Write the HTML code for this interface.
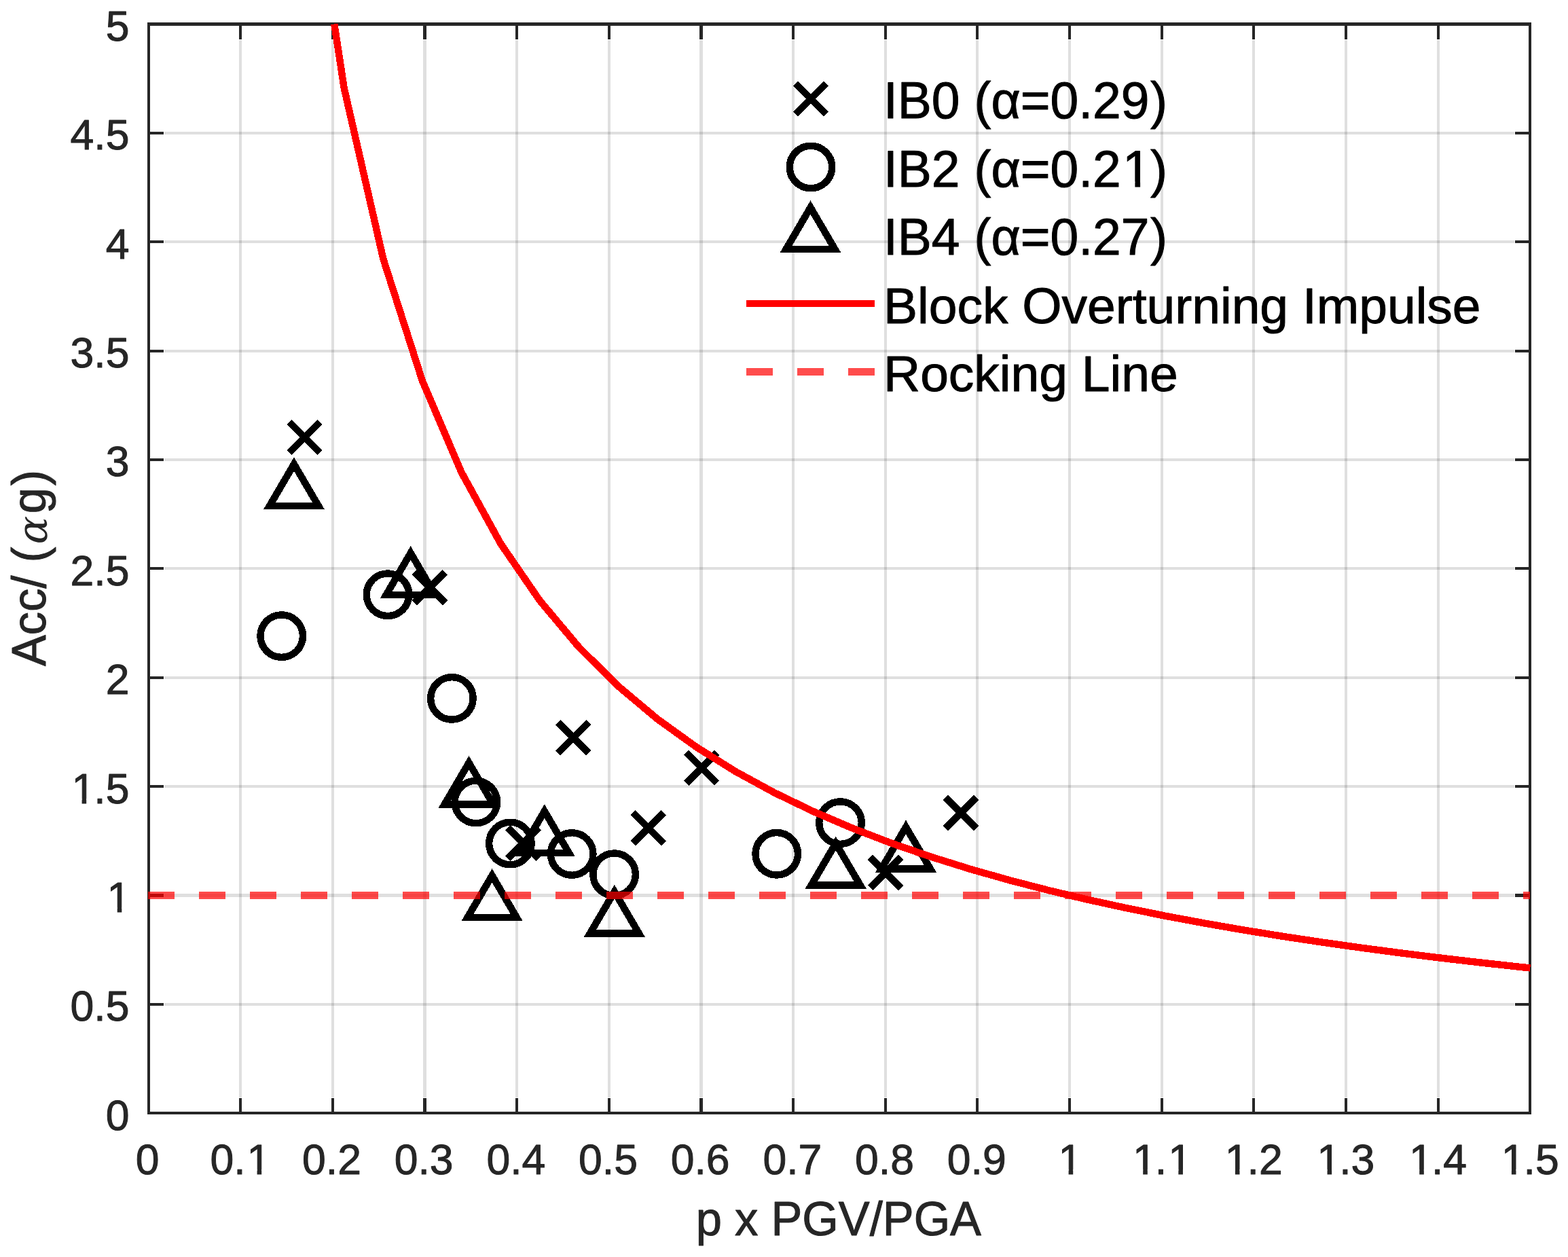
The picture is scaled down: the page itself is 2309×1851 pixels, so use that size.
<!DOCTYPE html>
<html lang="en"><head><meta charset="utf-8"><title>Block overturning plot</title>
<style>
html,body{margin:0;padding:0;background:#fff;}
body{width:2309px;height:1851px;overflow:hidden;}
svg{display:block;}
text{font-family:"Liberation Sans",sans-serif;font-kerning:none;stroke-width:1;stroke-linejoin:round;white-space:pre;}
.tk{font-size:62.5px;fill:#262626;stroke:#262626;}
.lb{font-size:68.75px;fill:#262626;stroke:#262626;}
.lg{font-size:75px;fill:#000;stroke:#000;}
.al{font-family:"DejaVu Math TeX Gyre","DejaVu Serif","Liberation Serif",serif;font-style:italic;font-size:60px;stroke:none;}
</style></head><body>
<svg width="2309" height="1851" viewBox="0 0 2309 1851">
<rect x="0" y="0" width="2309" height="1851" fill="#fff"/>
<g shape-rendering="crispEdges">
<g stroke="#262626" stroke-opacity="0.15" stroke-width="4.17" fill="none">
<line x1="354.12" y1="59" x2="354.12" y2="1616"/>
<line x1="489.78" y1="59" x2="489.78" y2="1616"/>
<line x1="625.44" y1="59" x2="625.44" y2="1616"/>
<line x1="761.1" y1="59" x2="761.1" y2="1616"/>
<line x1="896.76" y1="59" x2="896.76" y2="1616"/>
<line x1="1032.42" y1="59" x2="1032.42" y2="1616"/>
<line x1="1168.08" y1="59" x2="1168.08" y2="1616"/>
<line x1="1303.74" y1="59" x2="1303.74" y2="1616"/>
<line x1="1439.4" y1="59" x2="1439.4" y2="1616"/>
<line x1="1575.06" y1="59" x2="1575.06" y2="1616"/>
<line x1="1710.72" y1="59" x2="1710.72" y2="1616"/>
<line x1="1846.38" y1="59" x2="1846.38" y2="1616"/>
<line x1="1982.04" y1="59" x2="1982.04" y2="1616"/>
<line x1="2117.7" y1="59" x2="2117.7" y2="1616"/>
<line x1="242" y1="1478.92" x2="2230" y2="1478.92"/>
<line x1="242" y1="1318.54" x2="2230" y2="1318.54"/>
<line x1="242" y1="1158.16" x2="2230" y2="1158.16"/>
<line x1="242" y1="997.78" x2="2230" y2="997.78"/>
<line x1="242" y1="837.4" x2="2230" y2="837.4"/>
<line x1="242" y1="677.02" x2="2230" y2="677.02"/>
<line x1="242" y1="516.64" x2="2230" y2="516.64"/>
<line x1="242" y1="356.26" x2="2230" y2="356.26"/>
<line x1="242" y1="195.88" x2="2230" y2="195.88"/>
</g>
<g fill="#262626">
<rect x="217" y="33" width="2038" height="5"/>
<rect x="217" y="1637" width="2038" height="4"/>
<rect x="217" y="33" width="4" height="1608"/>
<rect x="2251" y="33" width="4" height="1608"/>
</g>
<g stroke="#262626" stroke-width="4.17" fill="none" stroke-linecap="butt">
<line x1="354.12" y1="1639.3" x2="354.12" y2="1617"/>
<line x1="354.12" y1="35.5" x2="354.12" y2="57.8"/>
<line x1="489.78" y1="1639.3" x2="489.78" y2="1617"/>
<line x1="489.78" y1="35.5" x2="489.78" y2="57.8"/>
<line x1="625.44" y1="1639.3" x2="625.44" y2="1617"/>
<line x1="625.44" y1="35.5" x2="625.44" y2="57.8"/>
<line x1="761.1" y1="1639.3" x2="761.1" y2="1617"/>
<line x1="761.1" y1="35.5" x2="761.1" y2="57.8"/>
<line x1="896.76" y1="1639.3" x2="896.76" y2="1617"/>
<line x1="896.76" y1="35.5" x2="896.76" y2="57.8"/>
<line x1="1032.42" y1="1639.3" x2="1032.42" y2="1617"/>
<line x1="1032.42" y1="35.5" x2="1032.42" y2="57.8"/>
<line x1="1168.08" y1="1639.3" x2="1168.08" y2="1617"/>
<line x1="1168.08" y1="35.5" x2="1168.08" y2="57.8"/>
<line x1="1303.74" y1="1639.3" x2="1303.74" y2="1617"/>
<line x1="1303.74" y1="35.5" x2="1303.74" y2="57.8"/>
<line x1="1439.4" y1="1639.3" x2="1439.4" y2="1617"/>
<line x1="1439.4" y1="35.5" x2="1439.4" y2="57.8"/>
<line x1="1575.06" y1="1639.3" x2="1575.06" y2="1617"/>
<line x1="1575.06" y1="35.5" x2="1575.06" y2="57.8"/>
<line x1="1710.72" y1="1639.3" x2="1710.72" y2="1617"/>
<line x1="1710.72" y1="35.5" x2="1710.72" y2="57.8"/>
<line x1="1846.38" y1="1639.3" x2="1846.38" y2="1617"/>
<line x1="1846.38" y1="35.5" x2="1846.38" y2="57.8"/>
<line x1="1982.04" y1="1639.3" x2="1982.04" y2="1617"/>
<line x1="1982.04" y1="35.5" x2="1982.04" y2="57.8"/>
<line x1="2117.7" y1="1639.3" x2="2117.7" y2="1617"/>
<line x1="2117.7" y1="35.5" x2="2117.7" y2="57.8"/>
<line x1="218.46" y1="1478.92" x2="240.76" y2="1478.92"/>
<line x1="2253.36" y1="1478.92" x2="2231.06" y2="1478.92"/>
<line x1="218.46" y1="1318.54" x2="240.76" y2="1318.54"/>
<line x1="2253.36" y1="1318.54" x2="2231.06" y2="1318.54"/>
<line x1="218.46" y1="1158.16" x2="240.76" y2="1158.16"/>
<line x1="2253.36" y1="1158.16" x2="2231.06" y2="1158.16"/>
<line x1="218.46" y1="997.78" x2="240.76" y2="997.78"/>
<line x1="2253.36" y1="997.78" x2="2231.06" y2="997.78"/>
<line x1="218.46" y1="837.4" x2="240.76" y2="837.4"/>
<line x1="2253.36" y1="837.4" x2="2231.06" y2="837.4"/>
<line x1="218.46" y1="677.02" x2="240.76" y2="677.02"/>
<line x1="2253.36" y1="677.02" x2="2231.06" y2="677.02"/>
<line x1="218.46" y1="516.64" x2="240.76" y2="516.64"/>
<line x1="2253.36" y1="516.64" x2="2231.06" y2="516.64"/>
<line x1="218.46" y1="356.26" x2="240.76" y2="356.26"/>
<line x1="2253.36" y1="356.26" x2="2231.06" y2="356.26"/>
<line x1="218.46" y1="195.88" x2="240.76" y2="195.88"/>
<line x1="2253.36" y1="195.88" x2="2231.06" y2="195.88"/>
</g>
<g stroke="#000" stroke-width="10.42" fill="none" stroke-linecap="butt" stroke-linejoin="miter" stroke-miterlimit="10">
<path d="M425.8 621.4L471 666.6M425.8 666.6L471 621.4M610.3 842.6L655.5 887.8M610.3 887.8L655.5 842.6M821.6 1063.6L866.8 1108.8M821.6 1108.8L866.8 1063.6M932.2 1196.6L977.4 1241.8M932.2 1241.8L977.4 1196.6M748 1218.9L793.2 1264.1M748 1264.1L793.2 1218.9M1010.5 1108.1L1055.7 1153.3M1010.5 1153.3L1055.7 1108.1M1281.6 1262.4L1326.8 1307.6M1281.6 1307.6L1326.8 1262.4M1392.4 1174.3L1437.6 1219.5M1392.4 1219.5L1437.6 1174.3"/>
<circle cx="414.7" cy="936.6" r="31.25"/>
<circle cx="571" cy="875.7" r="31.25"/>
<circle cx="665.4" cy="1028.4" r="31.25"/>
<circle cx="700.9" cy="1181" r="31.25"/>
<circle cx="751.4" cy="1242" r="31.25"/>
<circle cx="842.2" cy="1257.5" r="31.25"/>
<circle cx="904.6" cy="1287.7" r="31.25"/>
<circle cx="1143.7" cy="1257.3" r="31.25"/>
<circle cx="1237.5" cy="1211.6" r="31.25"/>
<path d="M396.95 745L468.95 745L432.95 683.5ZM568.7 875.89L640.7 875.89L604.7 814.39ZM654.5 1184.69L726.5 1184.69L690.5 1123.19ZM765.8 1255.99L837.8 1255.99L801.8 1194.49ZM688.6 1350.79L760.6 1350.79L724.6 1289.29ZM868.85 1374.49L940.85 1374.49L904.85 1312.99ZM1194.7 1303.39L1266.7 1303.39L1230.7 1241.89ZM1298 1279.39L1370 1279.39L1334 1217.89Z"/>
</g>
<polyline fill="none" stroke="#ff0000" stroke-width="10.42" stroke-linejoin="round" stroke-linecap="butt" points="492.32,35.5 506.74,129.84 564.39,381.42 622.05,561.12 679.7,695.89 737.36,800.71 795.02,884.57 852.67,953.18 910.33,1010.36 967.98,1058.74 1025.64,1100.21 1083.29,1136.15 1140.95,1167.59 1198.6,1195.34 1256.26,1220.01 1313.91,1242.07 1371.57,1261.94 1429.23,1279.91 1486.88,1296.24 1544.54,1311.16 1602.19,1324.83 1659.85,1337.41 1717.5,1349.02 1775.16,1359.77 1832.81,1369.75 1890.47,1379.05 1948.13,1387.72 2005.78,1395.84 2063.44,1403.45 2121.09,1410.59 2178.75,1417.32 2236.4,1423.66 2253.36,1425.42"/>
<line x1="218.46" y1="1318.54" x2="2253.36" y2="1318.54" stroke="#ff0000" stroke-opacity="0.7" stroke-width="10.42" stroke-dasharray="39 36"/>
</g>
<text class="tk" transform="translate(0 1728.5) scale(1 1.018)" x="199.78" y="0">0</text>
<text class="tk" transform="translate(0 1728.5) scale(1 1.018)" x="309.39 344.15 363.41" y="0">0.1</text>
<text class="tk" transform="translate(0 1728.5) scale(1 1.018)" x="445.06 479.82 497.19" y="0">0.2</text>
<text class="tk" transform="translate(0 1728.5) scale(1 1.018)" x="580.74 615.5 632.86" y="0">0.3</text>
<text class="tk" transform="translate(0 1728.5) scale(1 1.018)" x="716.41 751.17 768.54" y="0">0.4</text>
<text class="tk" transform="translate(0 1728.5) scale(1 1.018)" x="852.08 886.84 904.21" y="0">0.5</text>
<text class="tk" transform="translate(0 1728.5) scale(1 1.018)" x="987.76 1022.52 1039.88" y="0">0.6</text>
<text class="tk" transform="translate(0 1728.5) scale(1 1.018)" x="1123.43 1158.19 1175.56" y="0">0.7</text>
<text class="tk" transform="translate(0 1728.5) scale(1 1.018)" x="1259.1 1293.86 1311.23" y="0">0.8</text>
<text class="tk" transform="translate(0 1728.5) scale(1 1.018)" x="1394.78 1429.54 1446.9" y="0">0.9</text>
<text class="tk" transform="translate(0 1728.5) scale(1 1.018)" x="1558.41" y="0">1</text>
<text class="tk" transform="translate(0 1728.5) scale(1 1.018)" x="1668.02 1700.88 1720.14" y="0">1.1</text>
<text class="tk" transform="translate(0 1728.5) scale(1 1.018)" x="1803.69 1836.56 1853.92" y="0">1.2</text>
<text class="tk" transform="translate(0 1728.5) scale(1 1.018)" x="1939.36 1972.23 1989.6" y="0">1.3</text>
<text class="tk" transform="translate(0 1728.5) scale(1 1.018)" x="2075.04 2107.9 2125.27" y="0">1.4</text>
<text class="tk" transform="translate(0 1728.5) scale(1 1.018)" x="2210.71 2243.58 2260.94" y="0">1.5</text>
<text class="tk" transform="translate(0 1663.7) scale(1 1.018)" x="155.64" y="0">0</text>
<text class="tk" transform="translate(0 1503.32) scale(1 1.018)" x="103.52 138.28 155.64" y="0">0.5</text>
<text class="tk" transform="translate(0 1342.94) scale(1 1.018)" x="157.53" y="0">1</text>
<text class="tk" transform="translate(0 1182.56) scale(1 1.018)" x="105.41 138.28 155.64" y="0">1.5</text>
<text class="tk" transform="translate(0 1022.18) scale(1 1.018)" x="155.64" y="0">2</text>
<text class="tk" transform="translate(0 861.8) scale(1 1.018)" x="103.52 138.28 155.64" y="0">2.5</text>
<text class="tk" transform="translate(0 701.42) scale(1 1.018)" x="155.64" y="0">3</text>
<text class="tk" transform="translate(0 541.04) scale(1 1.018)" x="103.52 138.28 155.64" y="0">3.5</text>
<text class="tk" transform="translate(0 380.66) scale(1 1.018)" x="155.64" y="0">4</text>
<text class="tk" transform="translate(0 220.28) scale(1 1.018)" x="103.52 138.28 155.64" y="0">4.5</text>
<text class="tk" transform="translate(0 59.9) scale(1 1.018)" x="155.64" y="0">5</text>
<text class="lb" transform="translate(0 1819) scale(1 1.018)" x="1024.7 1062.94 1082.04 1116.41 1135.51 1181.37 1234.84 1280.7 1299.8 1345.66 1399.13" y="0">p x PGV/PGA</text>
<g transform="translate(67.1 839) rotate(-90)">
<text class="lb" transform="translate(0 0) scale(1 1.018)" x="-142 -96.14 -61.77 -27.39 -8.29 10.81 32.3 82.8 124.04" y="0 0 0 0 0 0 1.8 0 0">Acc/ (<tspan class="al">α</tspan>g)</text>
</g>
<g shape-rendering="crispEdges">
<g stroke="#000" stroke-width="10.42" fill="none" stroke-linejoin="miter" stroke-miterlimit="10">
<path d="M1171.4 122.9L1216.6 168.1M1171.4 168.1L1216.6 122.9"/>
<circle cx="1194" cy="246" r="31.25"/>
<path d="M1157.5 367L1229.5 367L1193.5 305.5Z"/>
</g>
<line x1="1099" y1="447" x2="1288" y2="447" stroke="#ff0000" stroke-width="10.42"/>
<line x1="1099" y1="547.5" x2="1288" y2="547.5" stroke="#ff0000" stroke-opacity="0.7" stroke-width="10.42" stroke-dasharray="39 36"/>
</g>
<text class="lg" transform="translate(0 174.2) scale(1 1.018)" x="1301 1321.84 1371.86 1413.57 1434.41 1459.39 1502.75 1546.54 1588.26 1609.09 1650.8 1694.12" y="0">IB0 (α=0.29)</text>
<text class="lg" transform="translate(0 274.8) scale(1 1.018)" x="1301 1321.84 1371.86 1413.57 1434.41 1459.39 1502.75 1546.54 1588.26 1609.09 1653.08 1694.12" y="0">IB2 (α=0.21)</text>
<text class="lg" transform="translate(0 375.1) scale(1 1.018)" x="1301 1321.84 1371.86 1413.57 1434.41 1459.39 1502.75 1546.54 1588.26 1609.09 1650.8 1694.12" y="0">IB4 (α=0.27)</text>
<text class="lg" x="1301 1351.02 1367.69 1409.4 1446.9 1484.4 1505.24 1563.57 1601.07 1642.78 1667.76 1688.6 1730.31 1755.28 1797 1813.66 1855.37 1897.08 1917.92 1938.76 2001.23 2042.94 2084.65 2101.32 2138.82" y="475.8">Block Overturning Impulse</text>
<text class="lg" x="1301 1355.16 1396.87 1434.37 1471.87 1488.54 1530.25 1571.96 1592.8 1634.51 1651.17 1692.88" y="576.4">Rocking Line</text>
<g fill="#fff">
<rect x="366.15" y="1722.15" width="12.42" height="7.95"/>
<rect x="385.2" y="1722.15" width="11.93" height="7.95"/>
<rect x="1561.15" y="1722.15" width="12.42" height="7.95"/>
<rect x="1580.2" y="1722.15" width="11.93" height="7.95"/>
<rect x="1670.76" y="1722.15" width="12.42" height="7.95"/>
<rect x="1689.81" y="1722.15" width="11.93" height="7.95"/>
<rect x="1722.89" y="1722.15" width="12.42" height="7.95"/>
<rect x="1741.93" y="1722.15" width="11.93" height="7.95"/>
<rect x="1806.44" y="1722.15" width="12.42" height="7.95"/>
<rect x="1825.48" y="1722.15" width="11.93" height="7.95"/>
<rect x="1942.11" y="1722.15" width="12.42" height="7.95"/>
<rect x="1961.15" y="1722.15" width="11.93" height="7.95"/>
<rect x="2077.78" y="1722.15" width="12.42" height="7.95"/>
<rect x="2096.83" y="1722.15" width="11.93" height="7.95"/>
<rect x="2213.46" y="1722.15" width="12.42" height="7.95"/>
<rect x="2232.5" y="1722.15" width="11.93" height="7.95"/>
<rect x="160.28" y="1336.59" width="12.42" height="7.95"/>
<rect x="179.32" y="1336.59" width="11.93" height="7.95"/>
<rect x="108.16" y="1176.21" width="12.42" height="7.95"/>
<rect x="127.2" y="1176.21" width="11.93" height="7.95"/>
<rect x="1656.37" y="267.5" width="15.01" height="8.9"/>
<rect x="1679.11" y="267.5" width="14.43" height="8.9"/>
</g>
</svg>
</body></html>
